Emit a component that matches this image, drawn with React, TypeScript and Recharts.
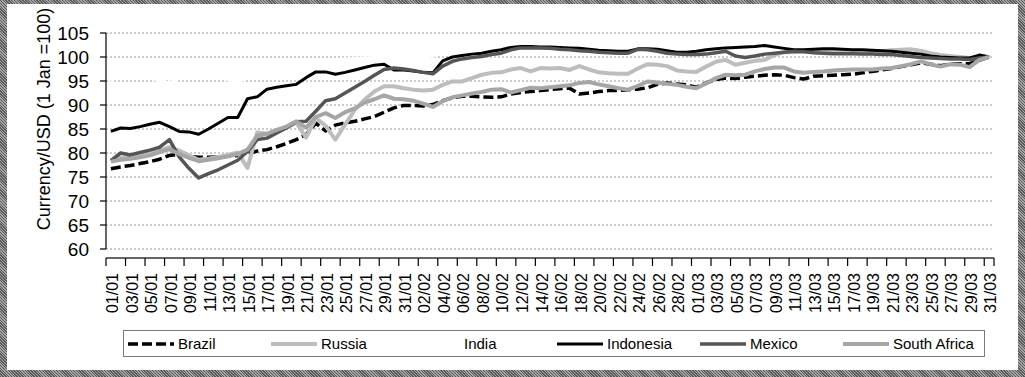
import React from 'react';
import { LineChart, Line, XAxis, YAxis, CartesianGrid } from 'recharts';

const dates = [
  '01/01','02/01','03/01','04/01','05/01','06/01','07/01','08/01','09/01','10/01',
  '11/01','12/01','13/01','14/01','15/01','16/01','17/01','18/01','19/01','20/01',
  '21/01','22/01','23/01','24/01','25/01','26/01','27/01','28/01','29/01','30/01',
  '31/01','01/02','02/02','03/02','04/02','05/02','06/02','07/02','08/02','09/02',
  '10/02','11/02','12/02','13/02','14/02','15/02','16/02','17/02','18/02','19/02',
  '20/02','21/02','22/02','23/02','24/02','25/02','26/02','27/02','28/02','29/02',
  '01/03','02/03','03/03','04/03','05/03','06/03','07/03','08/03','09/03','10/03',
  '11/03','12/03','13/03','14/03','15/03','16/03','17/03','18/03','19/03','20/03',
  '21/03','22/03','23/03','24/03','25/03','26/03','27/03','28/03','29/03','30/03',
  '31/03',
];

const brazil = [
  76.7, 77.1, 77.4, 77.8, 78.2, 78.7, 79.5, 79.7, 79.3, 79.1,
  79.1, 79.2, 79.3, 79.5, 79.9, 80.4, 80.7, 81.3, 82.0, 82.8,
  83.8, 86.2, 84.6, 85.8, 86.3, 86.6, 87.1, 87.6, 88.5, 89.4,
  89.9, 89.9, 89.8, 90.1, 90.9, 91.5, 91.8, 91.8, 91.7, 91.6,
  91.7, 92.3, 92.6, 92.8, 93.0, 93.2, 93.4, 93.5, 92.3, 92.5,
  92.8, 93.0, 93.0, 93.2, 93.3, 93.6, 94.3, 94.6, 94.4, 94.2,
  93.7, 94.6, 95.3, 95.6, 95.5, 95.8, 96.0, 96.2, 96.3, 96.2,
  95.7, 95.4, 96.0, 96.1, 96.2, 96.3, 96.4, 96.7, 97.0, 97.3,
  97.6, 98.0, 98.4, 98.8, 98.5, 98.2, 98.5, 98.6, 98.6, 99.3,
  100.0,
];

const russia = [
  78.5, 79.0, 79.0, 79.3, 79.8, 80.5, 81.2, 80.5, 79.5, 78.6,
  78.8, 79.2, 79.6, 80.1, 76.9, 84.3, 84.0, 84.6, 85.4, 86.3,
  83.2, 87.2, 85.7, 82.8, 85.9, 89.0, 91.1, 92.8, 93.9, 93.9,
  93.5, 93.2, 93.0, 93.2, 94.2, 94.9, 94.9, 95.6, 96.3, 96.7,
  96.8, 97.4, 97.7, 97.0, 97.7, 97.6, 97.7, 97.3, 98.1, 97.4,
  96.8, 96.6, 96.5, 96.5, 97.6, 98.5, 98.4, 98.1, 97.2, 97.0,
  96.9, 98.0, 99.0, 99.4, 98.4, 98.8, 99.2, 99.4, 100.4, 101.0,
  101.0, 101.2, 101.3, 101.2, 101.1, 101.1, 101.0, 101.0, 101.0, 101.2,
  101.4, 101.5, 101.6, 101.3, 100.8, 100.4, 100.2, 100.0, 99.8, 100.3,
  100.0,
];

const india = [
  95.0, 96.2, 96.8, 96.5, 95.8, 95.0, 94.6, 95.5, 96.4, 96.9,
  96.6, 96.0, 95.3, 94.8, 95.6, 96.5, 97.2, 97.8, 98.1, 98.4,
  98.7, 99.0, 99.2, 99.4, 99.6, 99.7, 99.8, 99.9, 100.0, 100.1,
  100.0, 100.1, 100.0, 100.2, 100.8, 101.4, 102.0, 102.5, 102.9, 103.2,
  103.4, 103.6, 103.7, 103.8, 103.9, 103.9, 104.0, 103.9, 104.0, 104.1,
  104.0, 103.9, 104.0, 104.1, 104.0, 103.9, 104.0, 104.1, 104.0, 103.9,
  103.8, 103.7, 103.8, 103.9, 103.8, 103.7, 103.8, 103.7, 103.6, 103.5,
  103.4, 103.5, 103.4, 103.3, 103.4, 103.2, 103.1, 103.2, 103.0, 102.9,
  102.8, 102.7, 102.4, 102.1, 101.8, 101.5, 101.2, 100.9, 100.6, 100.3,
  100.0,
];

const indonesia = [
  84.5, 85.2, 85.1, 85.5, 86.0, 86.4, 85.5, 84.5, 84.4, 83.9,
  85.0, 86.2, 87.4, 87.4, 91.3, 91.7, 93.3, 93.7, 94.0, 94.3,
  95.7, 96.9, 96.9, 96.4, 96.8, 97.3, 97.8, 98.3, 98.5, 97.3,
  97.3, 97.1, 96.8, 96.7, 99.2, 100.0, 100.3, 100.6, 100.8, 101.2,
  101.5, 102.0, 102.2, 102.2, 102.1, 102.1, 102.0, 101.9, 101.8, 101.6,
  101.4, 101.3, 101.2, 101.2, 101.7, 101.7, 101.6, 101.3, 101.0, 101.0,
  101.2, 101.5, 101.7, 101.9, 102.0, 102.1, 102.2, 102.4, 102.1, 101.8,
  101.5, 101.5, 101.6, 101.7, 101.7, 101.6, 101.5, 101.5, 101.4, 101.3,
  101.2, 101.0, 100.8, 100.6, 100.2, 100.0, 99.9, 99.8, 99.8, 100.4,
  100.0,
];

const mexico = [
  78.4, 80.0, 79.6, 80.1, 80.6, 81.2, 82.8, 79.2, 76.8, 74.8,
  75.7, 76.5, 77.5, 78.5, 80.3, 82.8, 83.1, 84.2, 85.2, 86.5,
  86.6, 88.7, 90.9, 91.3, 92.5, 93.7, 94.9, 96.2, 97.4, 97.7,
  97.5, 97.2, 96.8, 96.5, 98.1, 99.1, 99.6, 99.9, 100.1, 100.5,
  100.8, 101.5, 101.9, 101.9, 101.9, 101.8, 101.6, 101.5, 101.3, 101.2,
  101.0, 100.9, 100.8, 100.8, 101.6, 101.5, 101.2, 100.8, 100.6, 100.5,
  100.5, 100.6, 100.9, 101.2, 100.2, 99.9, 100.2, 100.6, 100.8, 101.0,
  101.2, 101.1, 100.9, 100.8, 100.7, 100.7, 100.7, 100.6, 100.6, 100.5,
  100.5, 100.3, 100.1, 99.9, 99.8, 99.7, 99.6, 99.6, 99.5, 99.8,
  100.0,
];

const southAfrica = [
  78.2, 78.6, 78.8, 79.1, 79.5, 80.2, 80.8, 79.8, 79.0, 78.3,
  78.6, 78.9, 79.3, 79.8, 80.7, 83.6, 84.0, 84.8, 85.5, 86.6,
  85.3, 87.5, 88.3, 87.3, 88.5, 89.3, 90.5, 91.2, 92.0, 91.3,
  91.2, 90.9, 90.3, 89.6, 90.8, 91.6, 92.0, 92.4, 92.7, 93.2,
  93.3, 92.6, 93.1, 93.6, 93.5, 93.7, 93.9, 94.1, 94.6, 94.8,
  94.3, 93.9, 93.5, 93.2, 94.0, 94.9, 94.7, 94.4, 94.2, 93.8,
  93.5, 94.5, 95.6, 96.3, 96.2, 96.3, 97.0, 97.5, 97.8, 97.8,
  97.0, 96.7, 96.9, 97.0, 97.2, 97.3, 97.4, 97.4, 97.4, 97.6,
  97.7, 98.1, 98.5, 99.1, 98.5, 98.0, 98.5, 98.4, 97.9, 99.4,
  100.0,
];

const yTicks = [60, 65, 70, 75, 80, 85, 90, 95, 100, 105];
const yLabel = 'Currency/USD (1 Jan =100)';

const series = [
  { name: 'Brazil', values: brazil, color: '#000000', width: 3.5, dash: '10 4' },
  { name: 'Russia', values: russia, color: '#bdbdbd', width: 4, dash: undefined },
  { name: 'India', values: india, color: '#ffffff', width: 3, dash: undefined },
  { name: 'Indonesia', values: indonesia, color: '#000000', width: 3, dash: undefined },
  { name: 'Mexico', values: mexico, color: '#555555', width: 3.5, dash: undefined },
  { name: 'South Africa', values: southAfrica, color: '#a6a6a6', width: 4, dash: undefined },
];

const data = dates.map((d, i) => {
  const row: Record<string, any> = { date: d };
  series.forEach((s) => {
    row[s.name] = s.values[i];
  });
  return row;
});

const FONT = "'Liberation Sans', Arial, sans-serif";
const PLOT_LEFT = 106;
const PLOT_RIGHT = 994;
const HALF_BAND = (PLOT_RIGHT - PLOT_LEFT) / dates.length / 2;

const XTick = (props: any) => {
  const { x, y, payload } = props;
  const y0 = y + 9;
  const isLast = payload.value === dates[dates.length - 1];
  const xEnd = isLast ? x + HALF_BAND : x + 3 * HALF_BAND;
  return (
    <g>
      <line x1={x - HALF_BAND} y1={y0} x2={xEnd} y2={y0} stroke="#000" strokeWidth={1.2} />
      <line x1={x - HALF_BAND} y1={y0} x2={x - HALF_BAND} y2={y0 + 8} stroke="#000" strokeWidth={1.2} />
      {isLast && <line x1={x + HALF_BAND} y1={y0} x2={x + HALF_BAND} y2={y0 + 8} stroke="#000" strokeWidth={1.2} />}
      <text
        transform={`translate(${x + 1.5},${y0 + 15}) rotate(-90)`}
        textAnchor="end"
        dy="0.36em"
        fontSize={16}
        fontFamily={FONT}
        fill="#000"
      >
        {payload.value}
      </text>
    </g>
  );
};

const renderYLabel = () => (
  <text
    transform="translate(44,119) rotate(-90)"
    textAnchor="middle"
    dominantBaseline="central"
    fontSize={18}
    fontFamily={FONT}
    fill="#000"
  >
    {yLabel}
  </text>
);

const LegendSample = ({ s }: { s: any }) => (
  <svg width={46} height={10} style={{ display: 'block' }}>
    <line x1={0} y1={5} x2={46} y2={5} stroke={s.color} strokeWidth={s.width} strokeDasharray={s.dash} />
  </svg>
);

export default function App() {
  return (
    <div
      style={{
        position: 'absolute',
        left: 0,
        top: 0,
        width: 1025,
        height: 377,
        background:
          'repeating-linear-gradient(45deg, #5a5a5a 0px, #5a5a5a 1px, #a4a4a4 1px, #a4a4a4 2px)',
        overflow: 'hidden',
      }}
    >
      <div style={{ position: 'absolute', left: 7, top: 4, width: 1011, height: 366, background: '#fff' }} />
      <div style={{ position: 'absolute', left: 0, top: 0 }}>
        <LineChart
          width={1025}
          height={377}
          data={data}
          margin={{ top: 33, right: 31, bottom: 58, left: 46 }}
        >
          <CartesianGrid horizontal vertical={false} stroke="#9a9a9a" strokeDasharray="2 2" />
          <XAxis
            dataKey="date"
            interval={1}
            axisLine={false}
            tickLine={false}
            tickSize={0}
            tickMargin={0}
            height={70}
            padding={{ left: HALF_BAND, right: HALF_BAND }}
            tick={<XTick />}
          />
          <YAxis
            domain={[60, 105]}
            ticks={yTicks}
            interval={0}
            allowDataOverflow
            width={60}
            axisLine={{ stroke: '#000', strokeWidth: 1.2 }}
            tickLine={{ stroke: '#000', strokeWidth: 1.2 }}
            tickSize={6}
            tickMargin={11}
            tick={{ fontSize: 19, fontFamily: FONT, fill: '#000' }}
            label={{ position: 'insideLeft', content: renderYLabel }}
          />
          <YAxis
            yAxisId="right"
            orientation="right"
            domain={[60, 105]}
            ticks={yTicks}
            width={0}
            tick={false}
            tickLine={false}
            axisLine={{ stroke: '#8a8a8a', strokeWidth: 1.2 }}
          />
          {series.map((s) => (
            <Line
              key={s.name}
              type="linear"
              dataKey={s.name}
              stroke={s.color}
              strokeWidth={s.width}
              strokeDasharray={s.dash}
              strokeLinejoin="round"
              dot={false}
              activeDot={false}
              isAnimationActive={false}
            />
          ))}
        </LineChart>
      </div>
      <div
        style={{
          position: 'absolute',
          left: 123,
          top: 330,
          width: 862,
          height: 27,
          boxSizing: 'border-box',
          border: '1px solid #7a7a7a',
          background: '#fff',
          display: 'flex',
          alignItems: 'center',
          paddingLeft: 4,
          fontFamily: FONT,
          fontSize: 15,
          color: '#000',
        }}
      >
        {series.map((s) => (
          <div key={s.name} style={{ width: 143, display: 'flex', alignItems: 'center', flex: 'none' }}>
            <LegendSample s={s} />
            <span style={{ marginLeft: 4, whiteSpace: 'nowrap' }}>{s.name}</span>
          </div>
        ))}
      </div>
    </div>
  );
}
